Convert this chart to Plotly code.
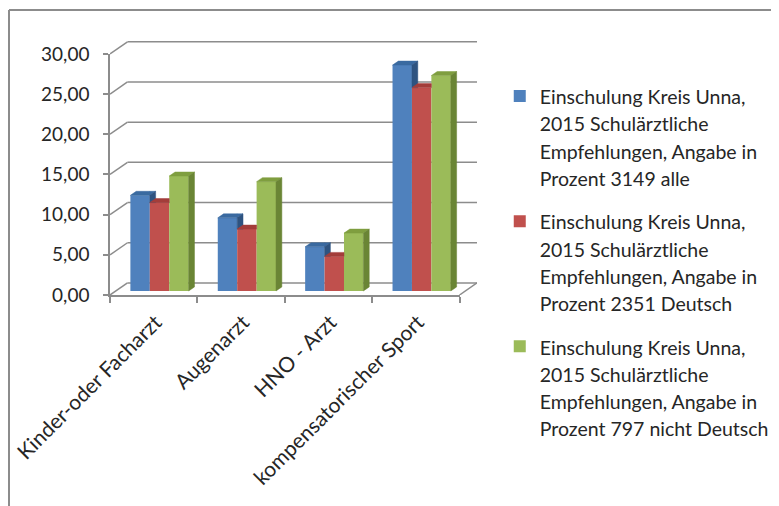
import plotly.graph_objects as go

# ---------------- data ----------------
categories = ["Kinder-oder Facharzt", "Augenarzt", "HNO - Arzt", "kompensatorischer Sport"]
series_names = [
    "Einschulung Kreis Unna,<br>2015 Schulärztliche<br>Empfehlungen, Angabe in<br>Prozent 3149 alle",
    "Einschulung Kreis Unna,<br>2015 Schulärztliche<br>Empfehlungen, Angabe in<br>Prozent 2351 Deutsch",
    "Einschulung Kreis Unna,<br>2015 Schulärztliche<br>Empfehlungen, Angabe in<br>Prozent 797 nicht Deutsch",
]
values_alle = [11.9, 9.1, 5.5, 28.1]
values_deutsch = [11.0, 7.7, 4.3, 25.3]
values_nicht_deutsch = [14.3, 13.6, 7.2, 26.8]
y_ticks = [0, 5, 10, 15, 20, 25, 30]

series_values = [values_alle, values_deutsch, values_nicht_deutsch]

# ---------------- style ----------------
front_colors = ["#4F81BD", "#C0504D", "#9BBB59"]
top_colors = ["#3A6AA0", "#A33D3A", "#7F9E3F"]
side_colors = ["#2E5380", "#8C302E", "#6A8535"]
grid_color = "#8C8C8C"
text_color = "#262626"
FONT = "Lato"

DX = 0.2      # depth offset of the whole scene (x units)
DY = 1.5      # depth offset of the whole scene (y units)
ddx, ddy = DX / 3, DY / 3   # bar depth
W = 2 / 9     # bar width
BASE = DY / 3
YMAX = max(y_ticks)
XMAX = len(categories) - 0.5


def clip(poly, axis, c, keep_ge):
    out = []
    n = len(poly)
    for j in range(n):
        P = poly[j]
        Q = poly[(j + 1) % n]
        inP = P[axis] >= c if keep_ge else P[axis] <= c
        inQ = Q[axis] >= c if keep_ge else Q[axis] <= c
        if inP:
            out.append(P)
        if inP != inQ:
            t = (c - P[axis]) / (Q[axis] - P[axis])
            out.append((P[0] + t * (Q[0] - P[0]), P[1] + t * (Q[1] - P[1])))
    return out


fig = go.Figure()

# front faces as real bars
for k, (name, vals) in enumerate(zip(series_names, series_values)):
    lines = name.split("<br>")
    label = "<br>".join(f"<span style='font-size:19.5px'>{ln}</span>" for ln in lines)
    fig.add_trace(go.Bar(
        x=list(range(len(categories))), y=vals, base=BASE,
        width=W, offset=-1 / 3 + k * W + ddx,
        marker=dict(color=front_colors[k], line=dict(width=0)),
        name=label, legendgroup=f"g{k}",
        customdata=categories,
        hovertemplate="%{customdata}: %{y:.2f}<extra></extra>",
    ))

# top and side faces (3D look) computed from the values
for k, vals in enumerate(series_values):
    tops_x, tops_y, sides_x, sides_y = [], [], [], []
    for i, v in enumerate(vals):
        xl = i - 1 / 3 + k * W + ddx
        xr = xl + W
        b = BASE
        t = v + BASE
        top = [(xl, t), (xr, t), (xr + ddx, t + ddy), (xl + ddx, t + ddy)]
        side = [(xr, b), (xr + ddx, b + ddy), (xr + ddx, t + ddy), (xr, t)]
        top_polys = [top]
        side_polys = [side]
        if k < len(series_values) - 1:
            tn = series_values[k + 1][i] + BASE
            side_polys = [clip(side, 1, tn, True)]
            top_polys = [clip(top, 0, xr, False),
                         clip(clip(top, 0, xr, True), 1, tn, True)]
        for p in top_polys:
            if len(p) >= 3:
                for (px, py) in p + [p[0]]:
                    tops_x.append(px); tops_y.append(py)
                tops_x.append(None); tops_y.append(None)
        for p in side_polys:
            if len(p) >= 3:
                for (px, py) in p + [p[0]]:
                    sides_x.append(px); sides_y.append(py)
                sides_x.append(None); sides_y.append(None)
    fig.add_trace(go.Scatter(x=tops_x, y=tops_y, mode="lines", fill="toself",
                             fillcolor=top_colors[k], line=dict(width=0.5, color=top_colors[k]),
                             showlegend=False, hoverinfo="skip"))
    fig.add_trace(go.Scatter(x=sides_x, y=sides_y, mode="lines", fill="toself",
                             fillcolor=side_colors[k], line=dict(width=0.5, color=side_colors[k]),
                             showlegend=False, hoverinfo="skip"))

# invisible trace holding the front (category / value) axes
fig.add_trace(go.Scatter(x=categories, y=[None] * len(categories), xaxis="x2", yaxis="y2",
                         mode="markers", showlegend=False, hoverinfo="skip"))

# walls / gridlines
shapes = []
for v in y_ticks:
    shapes.append(dict(type="line", xref="x", yref="y", layer="below",
                       x0=-0.5 + DX, x1=XMAX + DX, y0=v + DY, y1=v + DY,
                       line=dict(color=grid_color, width=1.5)))
    shapes.append(dict(type="line", xref="x", yref="y", layer="below",
                       x0=-0.5, x1=-0.5 + DX, y0=v, y1=v + DY,
                       line=dict(color=grid_color, width=1.5)))
shapes.append(dict(type="line", xref="x", yref="y", layer="below",
                   x0=XMAX, x1=XMAX + DX, y0=0, y1=DY,
                   line=dict(color=grid_color, width=1.5)))
# chart-area border
shapes.append(dict(type="line", xref="paper", yref="paper", x0=-0.2752, x1=1.9, y0=1.122, y1=1.122,
                   line=dict(color="#8C8C8C", width=2)))
shapes.append(dict(type="line", xref="paper", yref="paper", x0=-0.2752, x1=-0.2752, y0=1.122, y1=-0.9,
                   line=dict(color="#8C8C8C", width=2)))

xr_main = [-0.5, XMAX + DX]
yr_main = [0, YMAX + DY + 0.1]
fx = (XMAX + 0.5) / (xr_main[1] - xr_main[0])
fy = YMAX / yr_main[1]

fig.update_layout(
    width=771, height=498,
    margin=dict(l=102, r=302, t=33, b=211, autoexpand=False),
    paper_bgcolor="white", plot_bgcolor="rgba(0,0,0,0)",
    separators=", ",
    barmode="overlay",
    font=dict(family=FONT, color=text_color, size=20),
    shapes=shapes,
    xaxis=dict(range=xr_main, visible=False, fixedrange=True, automargin=False),
    yaxis=dict(range=yr_main, visible=False, fixedrange=True, automargin=False),
    xaxis2=dict(domain=[0, fx], anchor="y2", type="category", categoryorder="array",
                categoryarray=categories, range=[-0.5, XMAX], automargin=False,
                tickson="boundaries", ticks="outside", ticklen=6, tickwidth=1.5,
                tickcolor=grid_color, showline=True, linecolor=grid_color, linewidth=1.5,
                showgrid=False, zeroline=False, tickangle=-45,
                ticklabelstandoff=5, ticklabelshift=2,
                tickfont=dict(family=FONT, size=21, color=text_color)),
    yaxis2=dict(domain=[0, fy], anchor="x2", range=[0, YMAX], tickvals=y_ticks,
                automargin=False, ticklabelstandoff=10,
                tickformat=".2f", ticks="outside", ticklen=5, tickwidth=1.5,
                tickcolor=grid_color, showline=True, linecolor=grid_color, linewidth=1.5,
                showgrid=False, zeroline=False,
                tickfont=dict(family=FONT, size=19, color=text_color)),
    legend=dict(x=1.062, xanchor="left", y=0.863, yanchor="top",
                font=dict(family=FONT, size=21, color=text_color),
                valign="top", traceorder="grouped", tracegroupgap=13,
                itemwidth=30, bgcolor="rgba(0,0,0,0)", maxheight=480),
    showlegend=True,
)

fig.write_html("out.html")
